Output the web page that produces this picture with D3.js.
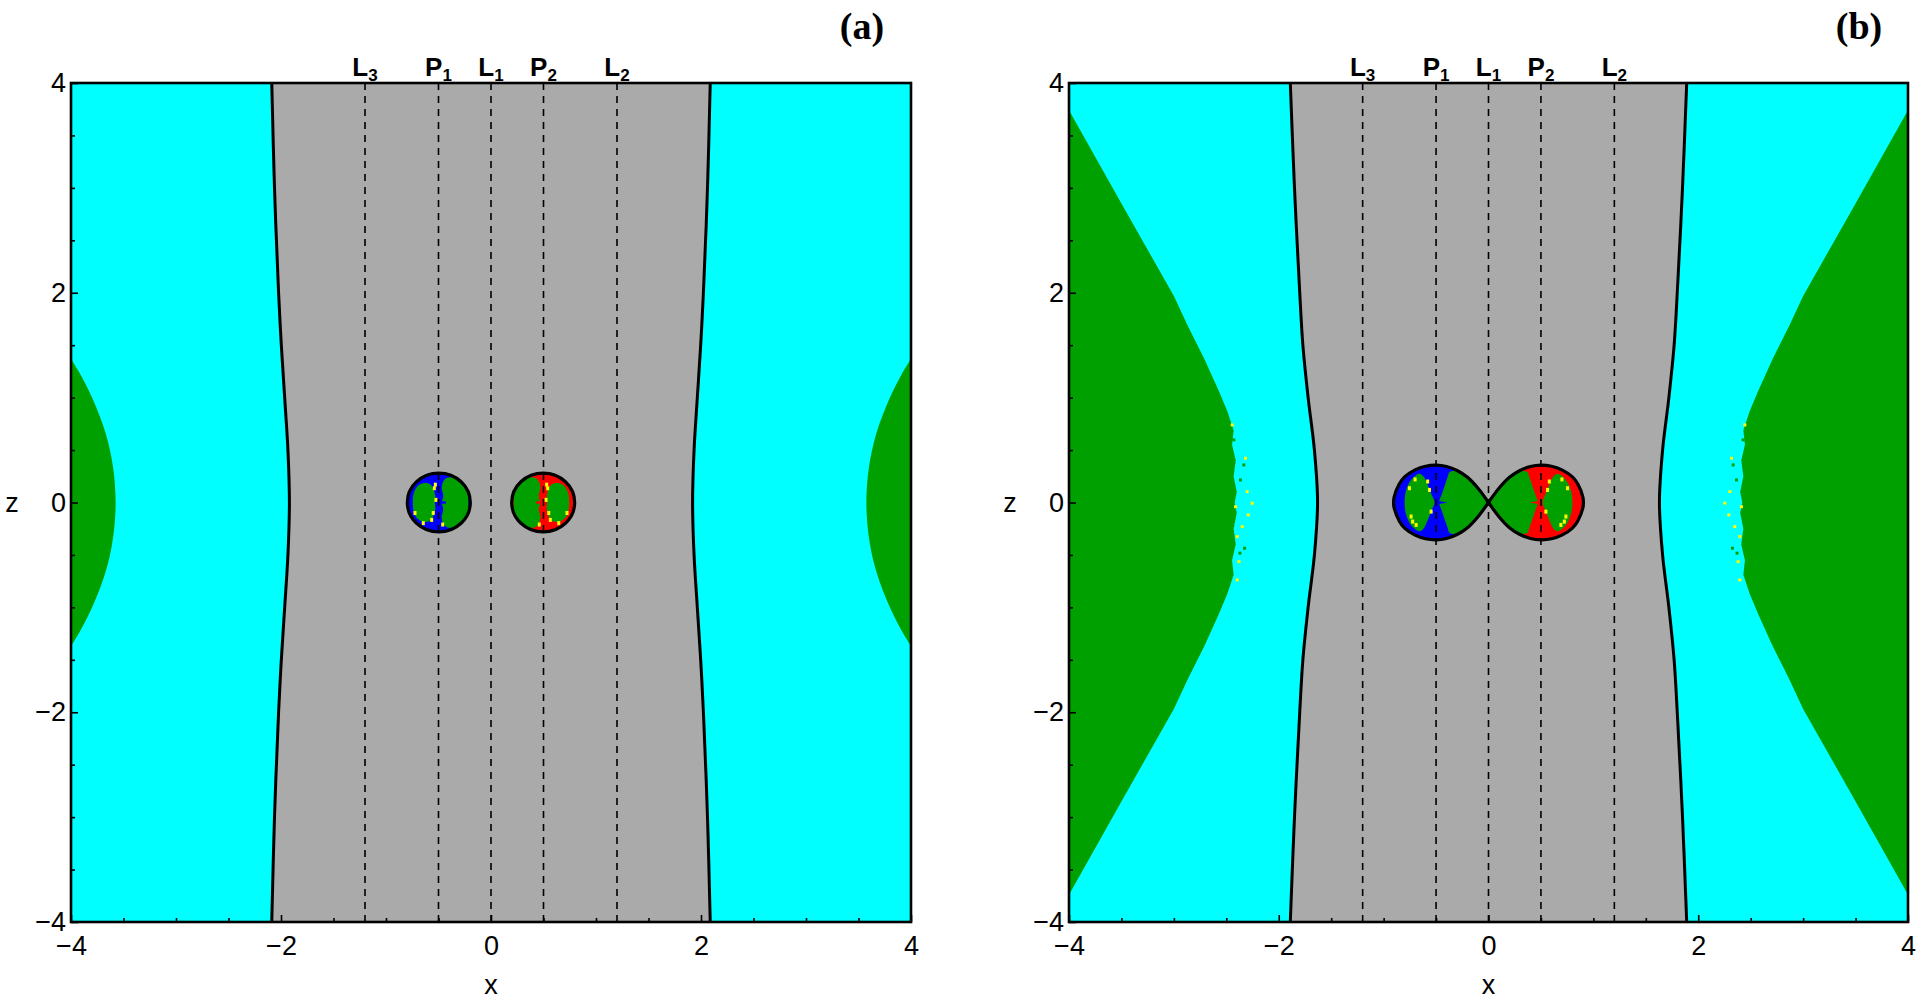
<!DOCTYPE html>
<html>
<head>
<meta charset="utf-8">
<script src="https://cdnjs.cloudflare.com/ajax/libs/d3/7.8.5/d3.min.js"></script>
<style>
  body { margin: 0; background: #fff; }
  svg text { font-family: "Liberation Sans", Arial, sans-serif; fill: #000; }
</style>
</head>
<body>
<div id="chart"></div>
<script>
// ---------- values ----------
const xTicks = [-4, -2, 0, 2, 4];
const zTicks = [-4, -2, 0, 2, 4];
const minorTicks = [-3.5, -3, -2.5, -1.5, -1, -0.5, 0.5, 1, 1.5, 2.5, 3, 3.5];
const panelTags = ["(a)", "(b)"];

// equilibrium / primary positions (dashed lines)
const pointNames = ["L", "P", "L", "P", "L"];
const pointSubs = ["3", "1", "1", "2", "2"];
const pointX = [-1.2, -0.5, 0, 0.5, 1.2];

// outer zero-velocity curve, right branch for z >= 0 (mirrored)
const zvcZ = [0, 0.5, 1, 1.5, 2, 3, 4];
const zvcXA = [1.92, 1.934, 1.965, 1.997, 2.023, 2.062, 2.088];
const zvcXB = [1.63, 1.66, 1.72, 1.77, 1.80, 1.85, 1.89];

// green (escape) region near the frame, right side, z >= 0
const edgeZA = [1.37, 1.22, 0.98, 0.66, 0.34, 0];
const edgeXA = [4, 3.91, 3.79, 3.67, 3.60, 3.575];
const edgeZB = [3.74, 2.85, 1.97, 1.69, 1.37, 1.06, 0.87, 0.69, 0.55, 0.4, 0.25, 0.1, 0];
const edgeXB = [4, 3.5, 3.0, 2.87, 2.71, 2.57, 2.49, 2.43, 2.445, 2.41, 2.43, 2.40, 2.42];

// panel (a): inner ovals around P1 / P2
const ovalCx = [-0.497, 0.497];
const ovalRx = 0.30;
const ovalRz = 0.28;

// panel (b): figure-eight, right lobe upper half
const lobeX = [0, 0.1, 0.2, 0.3, 0.4, 0.5, 0.6, 0.7, 0.8, 0.85, 0.9, 0.905];
const lobeZ = [0, 0.135, 0.24, 0.305, 0.343, 0.356, 0.346, 0.311, 0.244, 0.178, 0.052, 0];

// green islands inside the P1 basin (upper halves), mirrored for P2
const lensA = [[-0.745, 0], [-0.735, 0.09], [-0.70, 0.155], [-0.64, 0.185], [-0.58, 0.175], [-0.545, 0.12], [-0.53, 0.05], [-0.535, 0]];
const bigA = [[-0.47, 0], [-0.455, 0.06], [-0.47, 0.14], [-0.455, 0.2], [-0.42, 0.235], [-0.36, 0.24], [-0.30, 0.225], [-0.25, 0.18], [-0.225, 0.11], [-0.215, 0]];
const lensB = [[-0.80, 0], [-0.79, 0.1], [-0.76, 0.18], [-0.71, 0.245], [-0.66, 0.275], [-0.62, 0.25], [-0.58, 0.17], [-0.545, 0.08], [-0.515, 0]];
const bigB = [[-0.47, 0], [-0.445, 0.08], [-0.415, 0.17], [-0.39, 0.24], [-0.37, 0.29], [-0.30, 0.295], [-0.2, 0.225], [-0.1, 0.12], [-0.04, 0.045], [-0.02, 0]];

// yellow specks inside the P1 basin (mirrored for P2)
const specksA = [[-0.54, 0.136], [-0.524, 0.025], [-0.55, -0.10], [-0.565, -0.166], [-0.645, -0.197], [-0.724, -0.10], [-0.53, 0.17], [-0.46, -0.21]];
const specksB = [[-0.754, 0.136], [-0.738, -0.134], [-0.563, 0.12], [-0.547, -0.087], [-0.723, -0.182], [-0.69, -0.214], [-0.70, 0.22], [-0.58, 0.2]];

// scattered specks at the tip of the outer green region in (b), right side
const outerSpeckX = [2.253, 2.301, 2.317, 2.333, 2.291, 2.348, 2.326, 2.38, 2.396, 2.428, 2.444, 2.365, 2.412, 2.396, 2.37];
const outerSpeckZ = [-0.007, 0.104, 0.422, 0.358, -0.118, -0.23, -0.436, -0.564, -0.738, 0.597, 0.74, 0.215, -0.04, -0.325, -0.483];
const outerSpeckType = ["y", "y", "y", "g", "y", "y", "g", "y", "y", "g", "y", "g", "y", "y", "g"];

const colors = {
    cyan: "#00ffff", gray: "#aaaaaa", green: "#00a000",
    blue: "#0000ff", red: "#ff0000", yellow: "#ffff00"
};

// ---------- layout ----------
const svg = d3.select("#chart").append("svg")
    .attr("width", 1920)
    .attr("height", 1004);

const plotTop = 83, H = 839;
const panels = [
    {tag: panelTags[0], left: 71, W: 840, zvcX: zvcXA, edgeX: edgeXA, edgeZ: edgeZA, curve: d3.curveCatmullRom, kind: "ovals"},
    {tag: panelTags[1], left: 1069, W: 839, zvcX: zvcXB, edgeX: edgeXB, edgeZ: edgeZB, curve: d3.curveLinear, kind: "lobes"}
];

// upper half (z>=0, starting and ending on z=0) -> closed outline
function mirrorZ(pts) {
    return pts.concat(pts.slice(1, -1).reverse().map(p => [p[0], -p[1]]));
}
function mirrorX(pts) {
    return pts.map(p => [-p[0], p[1]]);
}

panels.forEach((p, pi) => {
    const g = svg.append("g").attr("transform", `translate(${p.left},${plotTop})`);
    const x = d3.scaleLinear().domain([-4, 4]).range([0, p.W]);
    const z = d3.scaleLinear().domain([-4, 4]).range([H, 0]);

    const line = d3.line().x(d => x(d[0])).y(d => z(d[1]));

    g.append("clipPath").attr("id", "clip" + pi)
        .append("rect").attr("width", p.W).attr("height", H);

    const plot = g.append("g").attr("clip-path", `url(#clip${pi})`);

    // background basin
    plot.append("rect").attr("width", p.W).attr("height", H).attr("fill", colors.cyan);

    // green regions near the frame
    const edgeUpper = p.edgeZ.map((zz, i) => [p.edgeX[i], zz]);
    const edgeRight = edgeUpper.concat(edgeUpper.slice(0, -1).reverse().map(d => [d[0], -d[1]]));
    [edgeRight, mirrorX(edgeRight)].forEach(pts => {
        plot.append("path")
            .attr("d", line.curve(p.curve)(pts) + "Z")
            .attr("fill", colors.green);
    });

    // speckles at the tip of the green region
    if (p.kind === "lobes") {
        outerSpeckX.forEach((sx, i) => {
            [sx, -sx].forEach(v => {
                plot.append("rect")
                    .attr("x", x(v) - 1.5).attr("y", z(outerSpeckZ[i]) - 1.5)
                    .attr("width", 3).attr("height", 3)
                    .attr("fill", outerSpeckType[i] === "y" ? colors.yellow : colors.green);
            });
        });
    }

    // forbidden (gray) region between the outer zero-velocity curves
    const zvcHalf = zvcZ.map((zz, i) => ({z: zz, x: p.zvcX[i]}));
    const zvcFull = zvcHalf.slice(1).reverse().map(d => ({z: -d.z, x: d.x})).concat(zvcHalf);
    plot.append("path")
        .attr("d", d3.area().y(d => z(d.z)).x0(d => x(-d.x)).x1(d => x(d.x)).curve(d3.curveCatmullRom)(zvcFull))
        .attr("fill", colors.gray);

    // inner basins
    const basinColor = [colors.blue, colors.red];
    const inner = plot.append("g");
    const outlines = [];

    if (p.kind === "ovals") {
        ovalCx.forEach((cx, k) => {
            const id = `oval${pi}_${k}`;
            g.append("clipPath").attr("id", id)
                .append("ellipse")
                .attr("cx", x(cx)).attr("cy", z(0))
                .attr("rx", x(ovalRx) - x(0)).attr("ry", z(0) - z(ovalRz));
            const b = inner.append("g").attr("clip-path", `url(#${id})`);
            b.append("ellipse")
                .attr("cx", x(cx)).attr("cy", z(0))
                .attr("rx", x(ovalRx) - x(0)).attr("ry", z(0) - z(ovalRz))
                .attr("fill", basinColor[k]);
            const flip = k === 0 ? (q => q) : mirrorX;
            [lensA, bigA].forEach(shape => {
                b.append("path")
                    .attr("d", line.curve(d3.curveCatmullRomClosed)(flip(mirrorZ(shape))))
                    .attr("fill", colors.green);
            });
            // thin spike of the basin colour through the primary
            const sp = flip([[-0.5, 0], [-0.43, 0]]);
            b.append("line")
                .attr("x1", x(sp[0][0])).attr("x2", x(sp[1][0]))
                .attr("y1", z(0)).attr("y2", z(0))
                .attr("stroke", basinColor[k]).attr("stroke-width", 2.5);
            flip(specksA).forEach(s => {
                b.append("rect")
                    .attr("x", x(s[0]) - 1.5).attr("y", z(s[1]) - 2)
                    .attr("width", 3).attr("height", 4)
                    .attr("fill", colors.yellow);
            });
            outlines.push({type: "ellipse", cx: cx});
        });
    } else {
        const rightUpper = lobeX.map((v, i) => [v, lobeZ[i]]);
        const rightLobe = rightUpper.concat(rightUpper.slice(0, -1).reverse().map(d => [d[0], -d[1]]));
        const lobes = [mirrorX(rightLobe), rightLobe];
        lobes.forEach((lobe, k) => {
            const id = `lobe${pi}_${k}`;
            const dPath = line.curve(d3.curveCatmullRom)(lobe) + "Z";
            g.append("clipPath").attr("id", id).append("path").attr("d", dPath);
            const b = inner.append("g").attr("clip-path", `url(#${id})`);
            b.append("path").attr("d", dPath).attr("fill", basinColor[k]);
            const flip = k === 0 ? (q => q) : mirrorX;
            [lensB, bigB].forEach(shape => {
                b.append("path")
                    .attr("d", line.curve(d3.curveCatmullRomClosed)(flip(mirrorZ(shape))))
                    .attr("fill", colors.green);
            });
            const sp = flip([[-0.50, 0], [-0.39, 0]]);
            b.append("path")
                .attr("d", `M${x(sp[0][0])},${z(0) - 2}L${x(sp[1][0])},${z(0)}L${x(sp[0][0])},${z(0) + 2}Z`)
                .attr("fill", basinColor[k]);
            flip(specksB).forEach(s => {
                b.append("rect")
                    .attr("x", x(s[0]) - 1.5).attr("y", z(s[1]) - 2)
                    .attr("width", 3).attr("height", 4)
                    .attr("fill", colors.yellow);
            });
            outlines.push({type: "path", d: dPath});
        });
    }

    // dashed lines at L3, P1, L1, P2, L2
    pointX.forEach(px => {
        plot.append("line")
            .attr("x1", x(px)).attr("x2", x(px))
            .attr("y1", z(4)).attr("y2", z(-4))
            .attr("stroke", "#000").attr("stroke-width", 1.6)
            .attr("stroke-dasharray", "7,6");
    });

    // zero-velocity curves
    const zvcLine = d3.line().y(d => z(d.z)).curve(d3.curveCatmullRom);
    plot.append("path").attr("d", zvcLine.x(d => x(d.x))(zvcFull))
        .attr("fill", "none").attr("stroke", "#000").attr("stroke-width", 3);
    plot.append("path").attr("d", zvcLine.x(d => x(-d.x))(zvcFull))
        .attr("fill", "none").attr("stroke", "#000").attr("stroke-width", 3);

    outlines.forEach(o => {
        if (o.type === "ellipse") {
            plot.append("ellipse")
                .attr("cx", x(o.cx)).attr("cy", z(0))
                .attr("rx", x(ovalRx) - x(0)).attr("ry", z(0) - z(ovalRz))
                .attr("fill", "none").attr("stroke", "#000").attr("stroke-width", 3.2);
        } else {
            plot.append("path").attr("d", o.d)
                .attr("fill", "none").attr("stroke", "#000").attr("stroke-width", 3.2);
        }
    });

    // frame
    g.append("rect").attr("width", p.W).attr("height", H)
        .attr("fill", "none").attr("stroke", "#000").attr("stroke-width", 2.6);

    // axes (ticks pointing inward)
    const styleAxis = sel => {
        sel.select(".domain").remove();
        sel.selectAll("line").attr("stroke", "#000").attr("stroke-width", 1.6);
        sel.attr("font-size", 27).attr("font-family", "Liberation Sans, Arial, sans-serif");
        sel.selectAll("text").attr("fill", "#000");
    };
    g.append("g").attr("transform", `translate(0,${H})`)
        .call(d3.axisBottom(x).tickValues(xTicks).tickSize(-7).tickPadding(14)).call(styleAxis);
    g.append("g").attr("transform", `translate(0,${H})`)
        .call(d3.axisBottom(x).tickValues(minorTicks).tickSize(-4).tickFormat("")).call(styleAxis);
    g.append("g")
        .call(d3.axisLeft(z).tickValues(zTicks).tickSize(-7).tickPadding(5)).call(styleAxis);
    g.append("g")
        .call(d3.axisLeft(z).tickValues(minorTicks).tickSize(-4).tickFormat("")).call(styleAxis);

    // axis titles
    g.append("text").attr("x", x(0)).attr("y", H + 72)
        .attr("text-anchor", "middle").attr("font-size", 27).text("x");
    g.append("text").attr("x", -59).attr("y", z(0) + 9)
        .attr("text-anchor", "middle").attr("font-size", 27).text("z");

    // point labels above the frame
    pointX.forEach((px, i) => {
        const t = g.append("text").attr("x", x(px)).attr("y", -7)
            .attr("text-anchor", "middle").attr("font-weight", "bold");
        t.append("tspan").attr("font-size", 26).text(pointNames[i]);
        t.append("tspan").attr("font-size", 17).attr("dy", 5).text(pointSubs[i]);
    });

    // panel tag
    g.append("text").attr("x", p.W - 49).attr("y", -44)
        .attr("text-anchor", "middle")
        .style("font-family", "'Liberation Serif', 'Times New Roman', serif")
        .attr("font-weight", "bold").attr("font-size", 38)
        .text(p.tag);
});
</script>
</body>
</html>
